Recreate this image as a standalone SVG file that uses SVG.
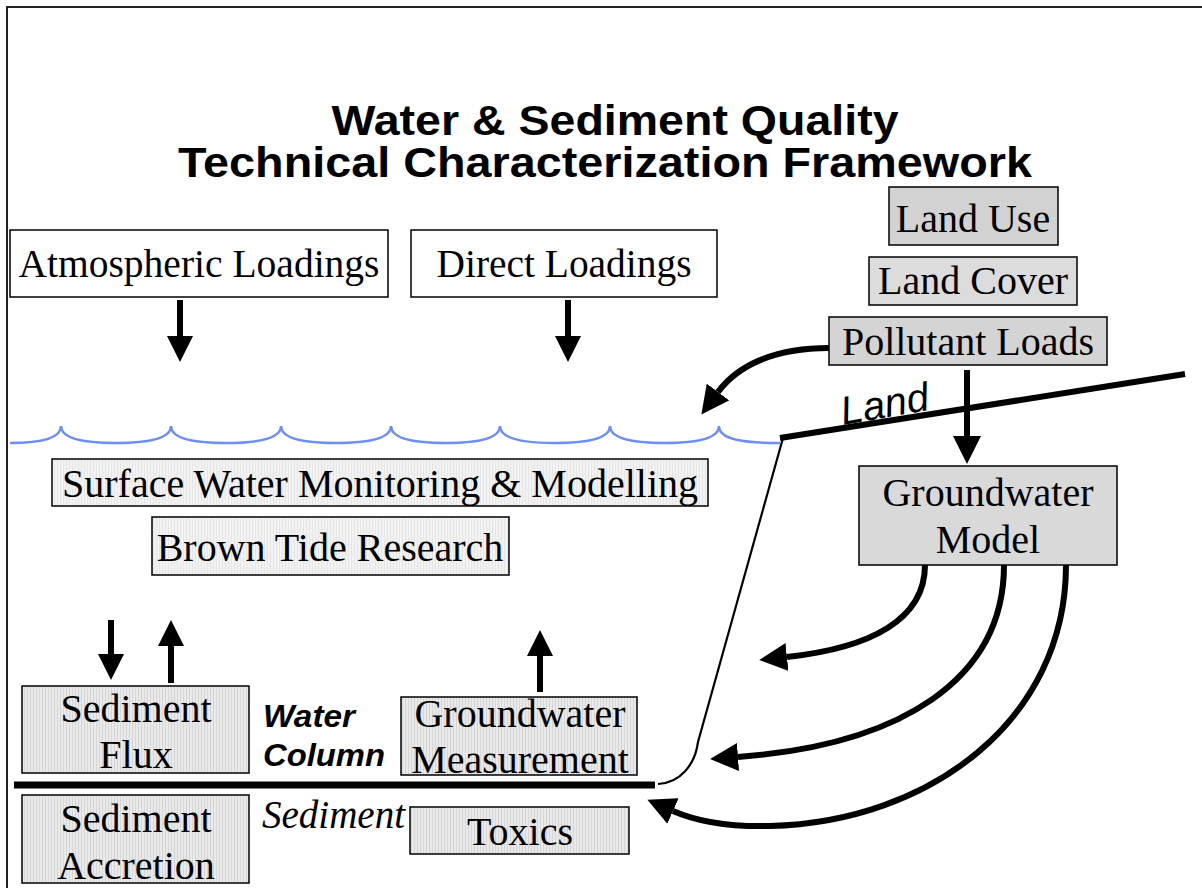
<svg xmlns="http://www.w3.org/2000/svg" width="1202" height="888" viewBox="0 0 1202 888">
<defs>
<style>
.t{font-family:"Liberation Serif","Times New Roman",serif;font-size:40px;fill:#000;text-anchor:middle}
.ttl{font-family:"Liberation Sans",Arial,sans-serif;font-size:43px;font-weight:bold;fill:#000;text-anchor:middle}
.lbl{font-family:"Liberation Sans",Arial,sans-serif;font-size:31px;font-weight:bold;font-style:italic;fill:#000}
.box{stroke:#000;stroke-width:1.5}
.white{fill:#fff}
.arr{fill:none;stroke:#000;stroke-width:6}
</style>
<pattern id="vs" width="3" height="10" patternUnits="userSpaceOnUse">
<rect width="3" height="10" fill="#e9e9e9"/>
<rect width="1" height="10" fill="#d6d6d6"/>
</pattern>
<pattern id="vl" width="3" height="10" patternUnits="userSpaceOnUse">
<rect width="3" height="10" fill="#f2f2f2"/>
<rect width="1" height="10" fill="#e6e6e6"/>
</pattern>
<marker id="ah" viewBox="0 0 26 26" refX="0" refY="13" markerWidth="26" markerHeight="26" markerUnits="userSpaceOnUse" orient="auto">
<path d="M0,0 L26,13 L0,26 z" fill="#000"/>
</marker>
<marker id="ah2" viewBox="0 0 28 28" refX="0" refY="14" markerWidth="28" markerHeight="28" markerUnits="userSpaceOnUse" orient="auto">
<path d="M0,0 L28,14 L0,28 z" fill="#000"/>
</marker>
</defs>
<rect width="1202" height="888" fill="#fff"/>
<rect x="7" y="7" width="1300" height="1000" fill="none" stroke="#222" stroke-width="2"/>

<g id="title">
<text class="ttl"><tspan x="615" y="135" textLength="567" lengthAdjust="spacingAndGlyphs">Water &amp; Sediment Quality</tspan><tspan x="605" y="177" textLength="854" lengthAdjust="spacingAndGlyphs">Technical Characterization Framework</tspan></text>
</g>

<g id="water-surface">
<path d="M10,443 C35,443 61,440 61,426 C61,440 90,443 116,443 C142,443 171,440 171,426 C171,440 200,443 226,443 C252,443 281,440 281,426 C281,440 310,443 336,443 C362,443 391,440 391,426 C391,440 420,443 446,443 C472,443 500,440 500,426 C500,440 529,443 555,443 C581,443 610,440 610,426 C610,440 639,443 665,443 C691,443 719,440 719,426 C719,440 745,443 780,443" fill="none" stroke="#6b8ff5" stroke-width="2.5"/>
</g>

<g id="ground-lines">
<path d="M780,438 L1185,374" fill="none" stroke="#000" stroke-width="6"/>
<path d="M783,438 L698,742 C695,765 680,783 658,784" fill="none" stroke="#000" stroke-width="2.2"/>
<path d="M14,785 L655,785" fill="none" stroke="#000" stroke-width="7"/>
<text x="843" y="425" transform="rotate(-10 843 425)" style="font-family:'Liberation Sans',Arial,sans-serif;font-size:40px;font-style:italic">Land</text>
</g>

<g id="atmospheric-loadings">
<rect class="box white" x="10" y="230" width="378" height="67"/>
<text class="t" x="199" y="277" textLength="361" lengthAdjust="spacingAndGlyphs">Atmospheric Loadings</text>
</g>
<g id="direct-loadings">
<rect class="box white" x="411" y="230" width="306" height="67"/>
<text class="t" x="564" y="277" textLength="255" lengthAdjust="spacingAndGlyphs">Direct Loadings</text>
</g>
<g id="land-use">
<rect class="box" fill="#d2d2d2" x="889" y="187" width="169" height="58"/>
<text class="t" x="973" y="232">Land Use</text>
</g>
<g id="land-cover">
<rect class="box" fill="#dcdcdc" x="869" y="257" width="208" height="48"/>
<text class="t" x="973" y="294">Land Cover</text>
</g>
<g id="pollutant-loads">
<rect class="box" fill="#d4d4d4" x="829" y="317" width="278" height="48"/>
<text class="t" x="968" y="355">Pollutant Loads</text>
</g>
<g id="surface-water">
<rect class="box" fill="url(#vl)" x="52" y="459" width="656" height="47"/>
<text class="t" x="380" y="497" textLength="636" lengthAdjust="spacingAndGlyphs">Surface Water Monitoring &amp; Modelling</text>
</g>
<g id="brown-tide">
<rect class="box" fill="url(#vl)" x="152" y="517" width="357" height="58"/>
<text class="t" x="330" y="561">Brown Tide Research</text>
</g>
<g id="groundwater-model">
<rect class="box" fill="#d9d9d9" x="859" y="466" width="258" height="99"/>
<text class="t" x="988" y="506">Groundwater</text>
<text class="t" x="988" y="553">Model</text>
</g>
<g id="sediment-flux">
<rect class="box" fill="url(#vs)" x="22" y="686" width="227" height="87"/>
<text class="t" x="136" y="722">Sediment</text>
<text class="t" x="136" y="768">Flux</text>
</g>
<g id="water-column-label">
<text class="lbl" x="263" y="727" textLength="92" lengthAdjust="spacingAndGlyphs">Water</text>
<text class="lbl" x="263" y="766" textLength="122" lengthAdjust="spacingAndGlyphs">Column</text>
</g>
<g id="groundwater-measurement">
<rect class="box" fill="url(#vs)" x="401" y="697" width="236" height="78"/>
<text class="t" x="520" y="727">Groundwater</text>
<text class="t" x="520" y="773">Measurement</text>
</g>
<g id="sediment-accretion">
<rect class="box" fill="url(#vs)" x="22" y="795" width="227" height="88"/>
<text class="t" x="136" y="832">Sediment</text>
<text class="t" x="136" y="879">Accretion</text>
</g>
<g id="sediment-label">
<text x="262" y="828" textLength="143" lengthAdjust="spacingAndGlyphs" style="font-family:'Liberation Serif','Times New Roman',serif;font-size:40px;font-style:italic">Sediment</text>
</g>
<g id="toxics">
<rect class="box" fill="url(#vs)" x="410" y="807" width="219" height="47"/>
<text class="t" x="520" y="845">Toxics</text>
</g>

<g id="connectors">
<path class="arr" d="M180,300 L180,336" marker-end="url(#ah)"/>
<path class="arr" d="M568,300 L568,336" marker-end="url(#ah)"/>
<path class="arr" d="M967,370 L967,436" stroke-width="7" marker-end="url(#ah2)"/>
<path class="arr" d="M111,620 L111,654" marker-end="url(#ah)"/>
<path class="arr" d="M171,683 L171,646" marker-end="url(#ah)"/>
<path class="arr" d="M540,692 L540,656" marker-end="url(#ah)"/>
<path class="arr" d="M829,348 C775,348 738,365 718,392" marker-end="url(#ah2)"/>
<path class="arr" d="M925,565 C925,620 870,648 787,657" marker-end="url(#ah2)"/>
<path class="arr" d="M1004,565 C1004,680 900,745 738,757" marker-end="url(#ah2)"/>
<path class="arr" d="M1066,565 C1066,720 930,822 770,826 C730,827 698,822 673,811" marker-end="url(#ah2)"/>
</g>
</svg>
